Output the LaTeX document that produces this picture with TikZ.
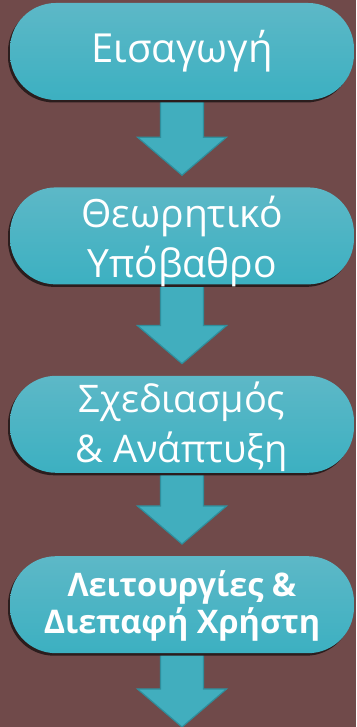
\documentclass[tikz,border=0pt]{standalone}
\usepackage{fontspec}
\setmainfont{Open Sans}
\usetikzlibrary{positioning,calc,shadows,backgrounds}
\definecolor{cbg}{HTML}{704A4A}
\definecolor{cboxtop}{HTML}{5DB8C7}
\definecolor{cboxbot}{HTML}{3CB0C1}
\definecolor{carrow}{HTML}{41AEBE}
\definecolor{carrowdk}{HTML}{2F8E9C}
\definecolor{cshadow}{HTML}{2B1D1D}
% block arrow from a box down to just above the next one
\newcommand{\flowarrow}[2]{%
  \filldraw[flowarrowfill] ($(#1)+(-21.5,0)$) -- ($(#1)+(21.5,0)$) -- ($(#2)+(21.5,50)$) -- ($(#2)+(44.5,50)$) -- ($(#2)+(0,12)$)
    -- ($(#2)+(-44.5,50)$) -- ($(#2)+(-21.5,50)$) -- cycle;}

\begin{document}
\begin{tikzpicture}[x=1pt, y=1pt,
  stage/.style={rounded corners=46pt, top color=cboxtop, bottom color=cboxbot, text=white, minimum width=344pt, minimum height=97pt, inner sep=0pt, align=center,
    general shadow={shadow xshift=-2pt, shadow yshift=-2.5pt, fill=cshadow}},
  flowarrowfill/.style={fill=carrow, draw=carrowdk, line width=1.2pt, line join=miter}]
\useasboundingbox (0,0) rectangle (356,727);
\node[stage, font=\fontsize{40}{50}\selectfont, text height=60pt, text depth=37pt] (intro) at (182,675.5) {Εισαγωγή};
\node[stage, font=\fontsize{39}{50}\selectfont, text height=90pt, text depth=7pt, below=87pt of intro] (theory) {Θεωρητικό\\Υπόβαθρο};
\node[stage, font=\fontsize{38}{50}\selectfont, text height=87pt, text depth=10pt, below=91pt of theory] (design) {Σχεδιασμός\\\& Ανάπτυξη};
\node[stage, font=\bfseries\fontsize{32.5}{37}\selectfont, text height=77pt, text depth=20pt, below=83pt of design] (ui) {Λειτουργίες \&\\Διεπαφή Χρήστη};
\coordinate (exit) at (182,-12);
% arrows and backdrop behind the boxes
\begin{scope}[on background layer]
\fill[cbg] (0,0) rectangle (356,727);
\flowarrow{intro.south}{theory.north}
\flowarrow{theory.south}{design.north}
\flowarrow{design.south}{ui.north}
\flowarrow{ui.south}{exit}
\end{scope}
\end{tikzpicture}
\end{document}
